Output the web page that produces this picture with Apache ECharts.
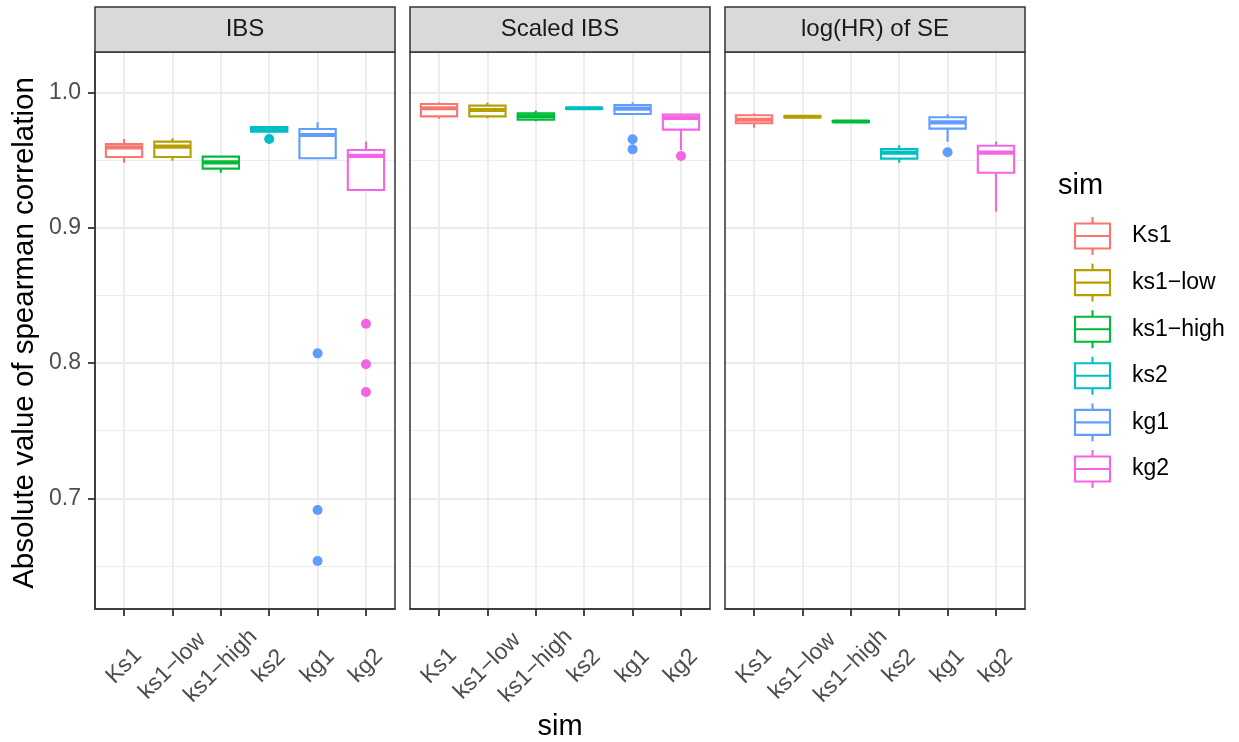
<!DOCTYPE html>
<html>
<head>
<meta charset="utf-8">
<script src="https://cdn.jsdelivr.net/npm/echarts@6/dist/echarts.min.js"></script>
<style>
  html, body { margin: 0; padding: 0; background: #ffffff; }
  #chart { width: 1239px; height: 742px; }
</style>
</head>
<body>
<div id="chart"></div>
<script>
// Simulation scenarios (x categories and legend entries)
const categories = ['Ks1', 'ks1\u2212low', 'ks1\u2212high', 'ks2', 'kg1', 'kg2'];
// Facet strip titles
const panelTitles = ['IBS', 'Scaled IBS', 'log(HR) of SE'];
// Y axis ticks
const yTicks = [0.7, 0.8, 0.9, 1.0];
const yMinorTicks = [0.65, 0.75, 0.85, 0.95];

// Box statistics per category: [lower whisker, Q1, median, Q3, upper whisker]
const ibsBoxes = [
  [0.9482, 0.9524, 0.9596, 0.9621, 0.9658],
  [0.9497, 0.9524, 0.9601, 0.9638, 0.9663],
  [0.9408, 0.9438, 0.9485, 0.9527, 0.9527],
  [0.9700, 0.9712, 0.9730, 0.9746, 0.9746],
  [0.9515, 0.9515, 0.9687, 0.9731, 0.9781],
  [0.9280, 0.9280, 0.9532, 0.9576, 0.9638]
];
// Outliers: [category index, value]
const ibsOutliers = [
  [3, 0.9658],
  [4, 0.8072], [4, 0.6913], [4, 0.6536],
  [5, 0.8291], [5, 0.7991], [5, 0.7786]
];

const scaledIbsBoxes = [
  [0.9808, 0.9825, 0.9885, 0.9916, 0.9929],
  [0.9811, 0.9825, 0.9872, 0.9904, 0.9926],
  [0.9788, 0.9800, 0.9825, 0.9847, 0.9867],
  [0.9880, 0.9882, 0.9885, 0.9888, 0.9890],
  [0.9840, 0.9842, 0.9882, 0.9909, 0.9929],
  [0.9575, 0.9727, 0.9813, 0.9838, 0.9840]
];
const scaledIbsOutliers = [
  [4, 0.9655], [4, 0.9581],
  [5, 0.9532]
];

const logHrBoxes = [
  [0.9741, 0.9774, 0.9800, 0.9833, 0.9847],
  [0.9815, 0.9818, 0.9822, 0.9827, 0.9830],
  [0.9780, 0.9783, 0.9787, 0.9791, 0.9794],
  [0.9482, 0.9512, 0.9557, 0.9584, 0.9611],
  [0.9638, 0.9734, 0.9781, 0.9818, 0.9840],
  [0.9120, 0.9408, 0.9557, 0.9608, 0.9638]
];
const logHrOutliers = [
  [4, 0.9559]
];

const panelBoxes = [ibsBoxes, scaledIbsBoxes, logHrBoxes];
const panelOutliers = [ibsOutliers, scaledIbsOutliers, logHrOutliers];

// ggplot default hue palette
const palette = ['#F8766D', '#B79F00', '#00BA38', '#00BFC4', '#619CFF', '#F564E3'];

const FONT = 'Liberation Sans, Arial, Helvetica, sans-serif';
const SMALL = 23, TITLE = 29;
const Y_MIN = 0.6181, Y_MAX = 1.0301;
const PANEL_LEFT = [95, 410, 725];
const PANEL_W = 300;
const PANEL_TOP = 52;
const PANEL_H = 557;
const STRIP_TOP = 7;
const BOX_HALF = 0.375;
const LINE_W = 2.1, MEDIAN_W = 4.2;
const catIdx = categories.map((_, i) => i);

const chart = echarts.init(document.getElementById('chart'), null, { renderer: 'canvas' });

const grids = [], xAxes = [], yAxes = [], series = [], graphics = [];

PANEL_LEFT.forEach((left, p) => {
  grids.push({ left: left, top: PANEL_TOP, width: PANEL_W, height: PANEL_H, show: false });

  xAxes.push({
    type: 'value', gridIndex: p, min: -0.6, max: 5.6,
    axisLine: { show: true, onZero: false, lineStyle: { color: '#333333', width: 1.5 } },
    axisTick: { show: true, customValues: catIdx, length: 7, lineStyle: { color: '#333333', width: 1.8 } },
    axisLabel: {
      customValues: catIdx,
      formatter: v => categories[Math.round(v)],
      rotate: 45, align: 'center', verticalAlign: 'middle', margin: 57,
      fontFamily: FONT, fontSize: SMALL, color: '#4D4D4D'
    },
    splitLine: { show: true, lineStyle: { color: '#EBEBEB', width: 1.8 } }
  });

  // major y axis (carries the data)
  yAxes.push({
    type: 'value', gridIndex: p, min: Y_MIN, max: Y_MAX, position: 'left',
    axisLine: { show: p === 0, onZero: false, lineStyle: { color: '#333333', width: 1.5 } },
    axisTick: { show: p === 0, customValues: yTicks, length: 7, lineStyle: { color: '#333333', width: 1.8 } },
    axisLabel: {
      show: p === 0, customValues: yTicks, formatter: v => v.toFixed(1), margin: 14,
      fontFamily: FONT, fontSize: SMALL, color: '#4D4D4D'
    },
    splitLine: { show: true, lineStyle: { color: '#EBEBEB', width: 1.8 } }
  });
  // minor grid lines
  yAxes.push({
    type: 'value', gridIndex: p, min: Y_MIN, max: Y_MAX, position: 'right',
    axisLine: { show: false, onZero: false },
    axisTick: { show: false, customValues: yMinorTicks },
    axisLabel: { show: false, customValues: yMinorTicks },
    splitLine: { show: true, lineStyle: { color: '#EBEBEB', width: 0.9 } }
  });

  // outlier points
  series.push({
    type: 'scatter', xAxisIndex: p, yAxisIndex: 2 * p, z: 3,
    symbol: 'circle', symbolSize: 10,
    data: panelOutliers[p].map(d => ({ value: d, itemStyle: { color: palette[d[0]], opacity: 1 } })),
    silent: true
  });

  // boxes and whiskers
  series.push({
    type: 'custom', xAxisIndex: p, yAxisIndex: 2 * p, z: 4,
    encode: { x: 0, y: [1, 2, 3, 4, 5] },
    data: panelBoxes[p].map((b, i) => [i].concat(b)),
    renderItem: function (params, api) {
      const x = api.value(0);
      const color = palette[x];
      const lo = api.coord([x, api.value(1)]);
      const q1 = api.coord([x, api.value(2)]);
      const med = api.coord([x, api.value(3)]);
      const q3 = api.coord([x, api.value(4)]);
      const hi = api.coord([x, api.value(5)]);
      const xl = api.coord([x - BOX_HALF, api.value(3)])[0];
      const xr = api.coord([x + BOX_HALF, api.value(3)])[0];
      const cx = q1[0];
      const stroke = { stroke: color, lineWidth: LINE_W, fill: null };
      return {
        type: 'group',
        children: [
          { type: 'line', shape: { x1: cx, y1: hi[1], x2: cx, y2: q3[1] }, style: stroke },
          { type: 'line', shape: { x1: cx, y1: q1[1], x2: cx, y2: lo[1] }, style: stroke },
          { type: 'rect', shape: { x: xl, y: q3[1], width: xr - xl, height: q1[1] - q3[1] },
            style: { fill: '#ffffff', stroke: color, lineWidth: LINE_W } },
          { type: 'line', shape: { x1: xl, y1: med[1], x2: xr, y2: med[1] },
            style: { stroke: color, lineWidth: MEDIAN_W } }
        ]
      };
    }
  });

  // panel border
  graphics.push({
    type: 'rect', z: 100, silent: true,
    shape: { x: left, y: PANEL_TOP, width: PANEL_W, height: PANEL_H },
    style: { fill: null, stroke: '#333333', lineWidth: 1.5 }
  });
  // facet strip
  graphics.push({
    type: 'rect', z: 100, silent: true,
    shape: { x: left, y: STRIP_TOP, width: PANEL_W, height: PANEL_TOP - STRIP_TOP },
    style: { fill: '#D9D9D9', stroke: '#333333', lineWidth: 1.5 }
  });
  graphics.push({
    type: 'text', z: 101, silent: true,
    x: left + PANEL_W / 2, y: (STRIP_TOP + PANEL_TOP) / 2,
    style: { text: panelTitles[p], fontFamily: FONT, fontSize: 24, fill: '#1A1A1A',
             textAlign: 'center', textVerticalAlign: 'middle' }
  });
});

// axis titles
graphics.push({
  type: 'text', silent: true, x: 25, y: 333, rotation: Math.PI / 2,
  style: { text: 'Absolute value of spearman correlation', fontFamily: FONT, fontSize: 29.5,
           fill: '#000000', textAlign: 'center', textVerticalAlign: 'middle' }
});
graphics.push({
  type: 'text', silent: true, x: (PANEL_LEFT[0] + PANEL_LEFT[2] + PANEL_W) / 2, y: 727,
  style: { text: 'sim', fontFamily: FONT, fontSize: TITLE, fill: '#000000',
           textAlign: 'center', textVerticalAlign: 'middle' }
});

// legend
graphics.push({
  type: 'text', silent: true, x: 1058, y: 186,
  style: { text: 'sim', fontFamily: FONT, fontSize: TITLE, fill: '#000000',
           textAlign: 'left', textVerticalAlign: 'middle' }
});
categories.forEach((name, i) => {
  const cy = 236 + 46.6 * i;
  const kx = 1075, kw = 35, kc = kx + kw / 2;
  const c = palette[i];
  graphics.push({
    type: 'group', silent: true,
    children: [
      { type: 'line', shape: { x1: kc, y1: cy - 19, x2: kc, y2: cy - 12.5 }, style: { stroke: c, lineWidth: LINE_W } },
      { type: 'line', shape: { x1: kc, y1: cy + 12.5, x2: kc, y2: cy + 19 }, style: { stroke: c, lineWidth: LINE_W } },
      { type: 'rect', shape: { x: kx, y: cy - 12.5, width: kw, height: 25 }, style: { fill: '#ffffff', stroke: c, lineWidth: LINE_W } },
      { type: 'line', shape: { x1: kx, y1: cy, x2: kx + kw, y2: cy }, style: { stroke: c, lineWidth: LINE_W } }
    ]
  });
  graphics.push({
    type: 'text', silent: true, x: 1132, y: cy,
    style: { text: name, fontFamily: FONT, fontSize: SMALL, fill: '#000000',
             textAlign: 'left', textVerticalAlign: 'middle' }
  });
});

chart.setOption({
  animation: false,
  backgroundColor: '#ffffff',
  grid: grids,
  xAxis: xAxes,
  yAxis: yAxes,
  series: series,
  graphic: graphics
});
</script>
</body>
</html>
